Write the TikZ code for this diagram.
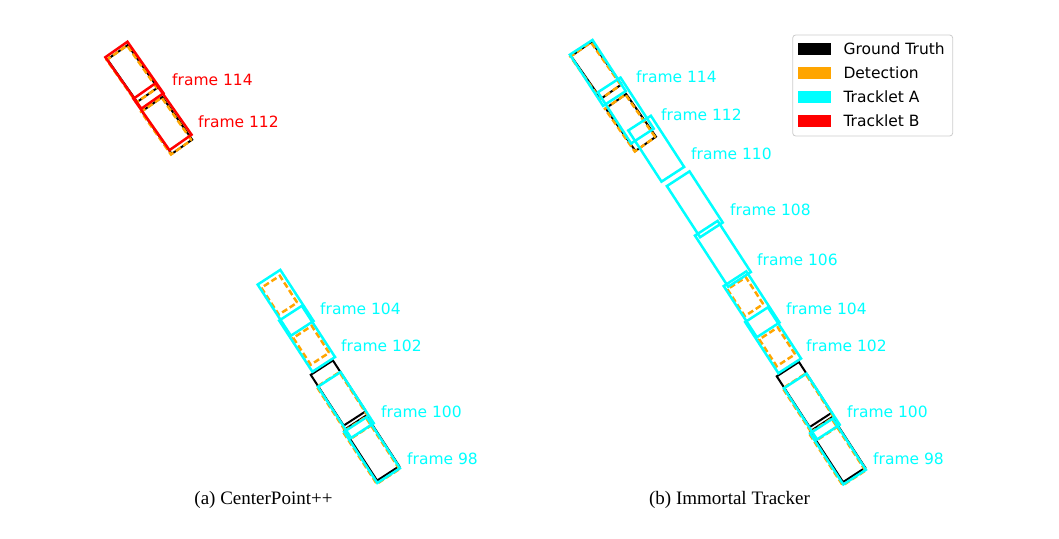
\documentclass[tikz,border=0pt]{standalone}
\usepackage{fontspec}
\setmainfont{DejaVu Sans}
\newfontfamily\capfont{Liberation Serif}
\usetikzlibrary{positioning}
\pgfdeclarelayer{edgelayer}
\pgfdeclarelayer{nodelayer}
\pgfsetlayers{edgelayer,nodelayer,main}
\definecolor{detcol}{RGB}{255,165,0}
\definecolor{trkA}{RGB}{0,255,255}
\definecolor{trkB}{RGB}{255,0,0}
\tikzstyle{gtbox}=[rectangle,draw=black,line width=2pt,inner sep=0pt,minimum width=60.5pt,minimum height=26.4pt,rotate=-57]
\tikzstyle{detbox}=[rectangle,draw=detcol,line width=2.5pt,dash pattern=on 6pt off 3pt,inner sep=0pt,minimum width=62pt,minimum height=27pt,rotate=-57]
\tikzstyle{trackA}=[rectangle,draw=trkA,line width=2.5pt,inner sep=0pt,minimum width=61pt,minimum height=27pt,rotate=-57]
\tikzstyle{trackB}=[rectangle,draw=trkB,line width=2.5pt,inner sep=0pt,minimum width=62.8pt,minimum height=27pt,rotate=-55]
\tikzstyle{small}=[minimum width=52pt,minimum height=25pt,rotate=2]
\tikzstyle{tiny}=[minimum width=32pt,minimum height=22pt]
\tikzstyle{flabel}=[anchor=west,inner sep=0pt,font=\fontsize{15.5}{18}\selectfont]
\tikzstyle{patch}=[rectangle,inner sep=0pt,outer sep=0pt,minimum width=32.4pt,minimum height=11.7pt]
\tikzstyle{caption}=[inner sep=0pt,font=\capfont\fontsize{19}{22}\selectfont]

\begin{document}
\begin{tikzpicture}[x=1pt,y=-1pt]
	\useasboundingbox (0,0) rectangle (1059,538);
	\begin{pgfonlayer}{edgelayer}
		% (a) ground truth and detections
		\node [style=gtbox,style=small] (0) at (132.5,73.5) {};
		\node [style=gtbox,style=small] (1) at (167,125.5) {};
		\node [style=gtbox] (2) at (338.3,393) {};
		\node [style=gtbox] (3) at (371.7,448) {};
		\node [style=detbox,style=small] (4) at (131.8,74) {};
		\node [style=detbox,style=small] (5) at (166.3,126) {};
		\node [style=detbox,style=tiny] (6) at (279.3,295.2) {};
		\node [style=detbox,style=tiny] (7) at (311.2,345.3) {};
		\node [style=detbox] (8) at (345,405.5) {};
		\node [style=detbox] (9) at (371.2,450.5) {};
		% (a) tracklets
		\node [style=trackB] (10) at (134.4,75.2) {};
		\node [style=trackB] (11) at (162.5,116.7) {};
		\node [style=trackA] (12) at (285.6,302.8) {};
		\node [style=trackA] (13) at (307.1,338.8) {};
		\node [style=trackA] (14) at (345.8,405) {};
		\node [style=trackA] (15) at (372,450) {};
		% (b) ground truth and detections
		\node [style=gtbox,style=small] (20) at (596.3,70.3) {};
		\node [style=gtbox,style=small] (21) at (630.8,122.5) {};
		\node [style=gtbox] (22) at (804.3,394.5) {};
		\node [style=gtbox] (23) at (837.7,449.5) {};
		\node [style=detbox,style=small] (24) at (595.6,70.8) {};
		\node [style=detbox,style=small] (25) at (630.1,123) {};
		\node [style=detbox,style=tiny] (26) at (745.3,296.7) {};
		\node [style=detbox,style=tiny] (27) at (777.2,346.8) {};
		\node [style=detbox] (28) at (811,407) {};
		\node [style=detbox] (29) at (837.2,452) {};
		% (b) tracklet A
		\node [style=trackA] (30) at (597.8,72.9) {};
		\node [style=trackA] (31) at (625.8,110.5) {};
		\node [style=trackA] (32) at (656.2,148.7) {};
		\node [style=trackA] (33) at (694.8,204.3) {};
		\node [style=trackA] (34) at (722.9,253.8) {};
		\node [style=trackA] (35) at (751.6,304.3) {};
		\node [style=trackA] (36) at (773.1,340.3) {};
		\node [style=trackA] (37) at (811.8,406.5) {};
		\node [style=trackA] (38) at (838,451.5) {};
		% legend frame
		\draw [draw=black!20, fill=white, line width=0.8pt, rounded corners=3pt] (792.7,35) rectangle (952.7,136);
	\end{pgfonlayer}
	\begin{pgfonlayer}{nodelayer}
		\node [style=flabel, text=trkB] (40) at (172,80) {frame 114};
		\node [style=flabel, text=trkB] (41) at (198,122) {frame 112};
		\node [style=flabel, text=trkA] (42) at (320,309) {frame 104};
		\node [style=flabel, text=trkA] (43) at (341,346) {frame 102};
		\node [style=flabel, text=trkA] (44) at (381,412) {frame 100};
		\node [style=flabel, text=trkA] (45) at (407,459) {frame 98};
		\node [style=flabel, text=trkA] (50) at (636,77) {frame 114};
		\node [style=flabel, text=trkA] (51) at (661,115) {frame 112};
		\node [style=flabel, text=trkA] (52) at (691,154) {frame 110};
		\node [style=flabel, text=trkA] (53) at (730,210) {frame 108};
		\node [style=flabel, text=trkA] (54) at (757,260) {frame 106};
		\node [style=flabel, text=trkA] (55) at (786,309) {frame 104};
		\node [style=flabel, text=trkA] (56) at (806,346) {frame 102};
		\node [style=flabel, text=trkA] (57) at (847,412) {frame 100};
		\node [style=flabel, text=trkA] (58) at (873,459) {frame 98};
		% legend
		\node [style=patch, fill=black] (60) at (814.5,49) {};
		\node [style=patch, fill=detcol] (61) at (814.5,72.9) {};
		\node [style=patch, fill=trkA] (62) at (814.5,96.8) {};
		\node [style=patch, fill=trkB] (63) at (814.5,120.7) {};
		\node [style=flabel, right=12.6pt of 60] (64) {Ground Truth};
		\node [style=flabel, right=12.6pt of 61] (65) {Detection};
		\node [style=flabel, right=12.6pt of 62] (66) {Tracklet A};
		\node [style=flabel, right=12.6pt of 63] (67) {Tracklet B};
		% captions
		\node [style=caption] (70) at (263.5,500) {(a) CenterPoint++};
		\node [style=caption] (71) at (729.5,500) {(b) Immortal Tracker};
	\end{pgfonlayer}
\end{tikzpicture}
\end{document}
